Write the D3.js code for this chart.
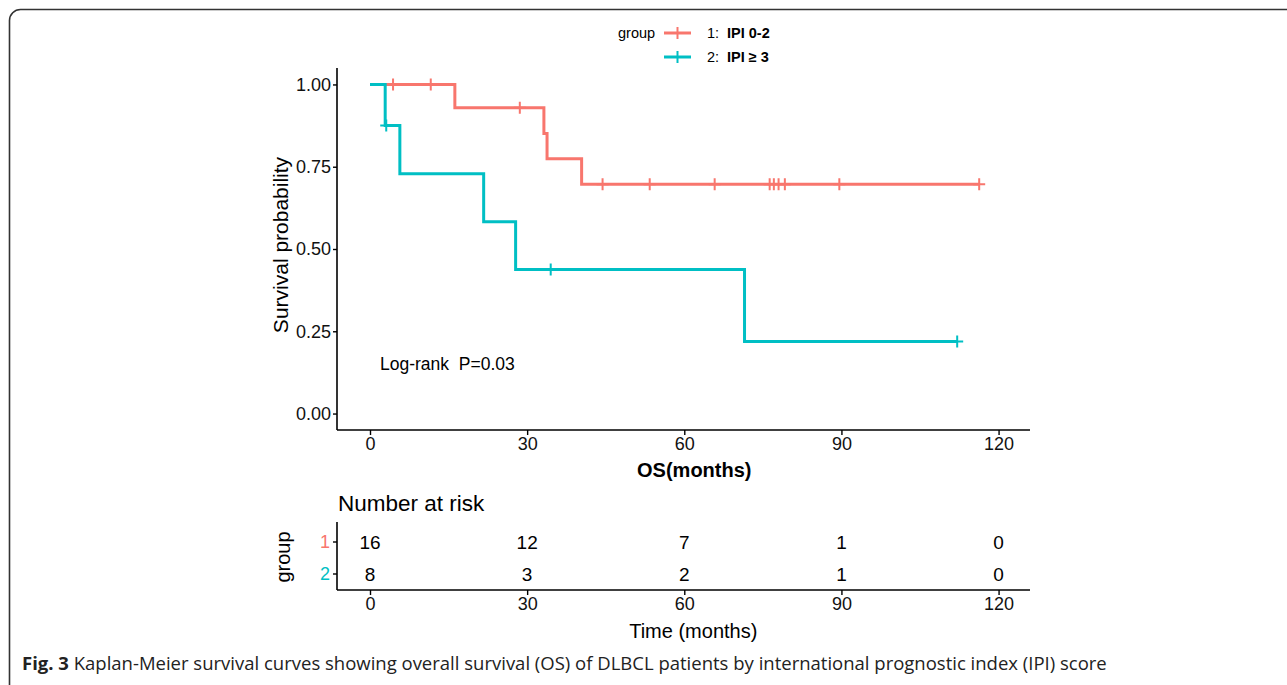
<!DOCTYPE html>
<html>
<head>
<meta charset="utf-8">
<script src="https://cdn.jsdelivr.net/npm/d3@7"></script>
<style>
  body { margin: 0; background: #fff; }
  svg text { font-family: "Liberation Sans", Arial, sans-serif; }
</style>
</head>
<body>
<div id="chart"></div>
<script>
// Kaplan-Meier steps
var groupNames = ["1", "2"];
var groupLabels = ["IPI 0-2", "IPI \u2265 3"];
var groupColors = ["#F8766D", "#00BFC4"];

var g1Time = [0, 16.2, 33.2, 33.8, 40.4, 116.3];
var g1Surv = [1, 0.929, 0.851, 0.774, 0.697, 0.697];
var g1Censor = [4.4, 11.6, 28.6, 44.4, 53.4, 65.8, 76.3, 77.1, 78.0, 79.2, 89.6, 116.3];

var g2Time = [0, 2.9, 5.7, 21.7, 27.8, 71.5, 112.1];
var g2Surv = [1, 0.875, 0.729, 0.583, 0.4375, 0.219, 0.219];
var g2Censor = [3.1, 34.5, 112.1];

// Number at risk table
var riskTimes = [0, 30, 60, 90, 120];
var risk1 = [16, 12, 7, 1, 0];
var risk2 = [8, 3, 2, 1, 0];

var xTicks = [0, 30, 60, 90, 120];
var yTicks = [0, 0.25, 0.5, 0.75, 1];

var W = 1287, H = 685;
var svg = d3.select("#chart").append("svg")
    .attr("width", W)
    .attr("height", H);

// figure frame
svg.append("rect")
    .attr("x", 9.5).attr("y", 9.5)
    .attr("width", W + 20).attr("height", H + 20)
    .attr("rx", 11).attr("ry", 11)
    .attr("fill", "none")
    .attr("stroke", "#333")
    .attr("stroke-width", 1.6);

// scales
var x = d3.scaleLinear().domain([-6.3, 126]).range([337, 1030]);
var y = d3.scaleLinear().domain([-0.05, 1.05]).range([430, 68]);

var survGroups = [
    {time: g1Time, surv: g1Surv, censor: g1Censor, color: groupColors[0]},
    {time: g2Time, surv: g2Surv, censor: g2Censor, color: groupColors[1]}
];

function survAt(g, t) {
    var s = g.surv[0];
    for (var i = 0; i < g.time.length; i++) {
        if (g.time[i] <= t) s = g.surv[i];
    }
    return s;
}

function styleAxis(a, d) {
    a.select(".domain").attr("stroke", "#000").attr("stroke-width", 1.6).attr("d", d);
    a.selectAll(".tick line").attr("stroke", "#000").attr("stroke-width", 1.4);
    a.selectAll(".tick text").attr("fill", "#111").style("font-size", "18px");
}

// axes of the main plot
var plot = svg.append("g");

var yAxis = plot.append("g")
    .attr("transform", "translate(" + x.range()[0] + ",0)")
    .call(d3.axisLeft(y).tickValues(yTicks).tickFormat(d3.format(".2f")).tickSize(4).tickPadding(2));
styleAxis(yAxis, "M0," + y.range()[0] + "V" + y.range()[1]);

var xAxis = plot.append("g")
    .attr("transform", "translate(0," + y.range()[0] + ")")
    .call(d3.axisBottom(x).tickValues(xTicks).tickSize(5).tickPadding(2));
styleAxis(xAxis, "M" + x.range()[0] + ",0H" + x.range()[1]);

// curves
var line = d3.line()
    .x(function(d) { return x(d[0]); })
    .y(function(d) { return y(d[1]); })
    .curve(d3.curveStepAfter);

survGroups.forEach(function(g) {
    var pts = g.time.map(function(t, i) { return [t, g.surv[i]]; });
    plot.append("path")
        .attr("d", line(pts))
        .attr("fill", "none")
        .attr("stroke", g.color)
        .attr("stroke-width", 3);

    plot.selectAll(null).data(g.censor).enter().append("path")
        .attr("d", function(t) {
            var cx = x(t), cy = y(survAt(g, t));
            return "M" + (cx - 6) + "," + cy + "H" + (cx + 6) + "M" + cx + "," + (cy - 6) + "V" + (cy + 6);
        })
        .attr("stroke", g.color)
        .attr("stroke-width", 2);
});

// labels
plot.append("text")
    .attr("transform", "translate(288," + (y(0.5) - 4) + ") rotate(-90)")
    .attr("text-anchor", "middle")
    .style("font-size", "21px")
    .text("Survival probability");

plot.append("text")
    .attr("x", x(60) + 10).attr("y", 477)
    .attr("text-anchor", "middle")
    .style("font-size", "20px")
    .style("font-weight", "bold")
    .text("OS(months)");

plot.append("text")
    .attr("x", 380).attr("y", 370)
    .style("font-size", "17.5px")
    .style("white-space", "pre")
    .text("Log-rank  P=0.03");

// legend
var legend = svg.append("g");
legend.append("text")
    .attr("x", 618).attr("y", 38)
    .style("font-size", "14.5px")
    .text("group");

groupLabels.forEach(function(lbl, i) {
    var ly = 33 + i * 24;
    legend.append("path")
        .attr("d", "M664," + ly + "H691")
        .attr("stroke", groupColors[i]).attr("stroke-width", 3);
    legend.append("path")
        .attr("d", "M677.5," + (ly - 6) + "V" + (ly + 6))
        .attr("stroke", groupColors[i]).attr("stroke-width", 2);
    legend.append("text")
        .attr("x", 707).attr("y", ly + 5)
        .style("font-size", "14.5px")
        .text(groupNames[i] + ":");
    legend.append("text")
        .attr("x", 727).attr("y", ly + 5)
        .style("font-size", "14.5px")
        .style("font-weight", "bold")
        .text(lbl);
});

// number at risk table
var risk = svg.append("g");
var yr = d3.scaleBand().domain(groupNames).range([526, 590]);

risk.append("text")
    .attr("x", 338).attr("y", 511)
    .style("font-size", "22.5px")
    .text("Number at risk");

var rxAxis = risk.append("g")
    .attr("transform", "translate(0,590)")
    .call(d3.axisBottom(x).tickValues(xTicks).tickSize(5).tickPadding(2));
styleAxis(rxAxis, "M" + x.range()[0] + ",0H" + x.range()[1]);

var ryAxis = risk.append("g")
    .attr("transform", "translate(" + x.range()[0] + ",0)")
    .call(d3.axisLeft(yr).tickSize(4).tickPadding(3));
styleAxis(ryAxis, "M0,522V590");
ryAxis.selectAll(".tick text")
    .attr("fill", function(d, i) { return groupColors[i]; });

[risk1, risk2].forEach(function(vals, gi) {
    risk.selectAll(null).data(vals).enter().append("text")
        .attr("x", function(d, i) { return x(riskTimes[i]); })
        .attr("y", yr(groupNames[gi]) + yr.bandwidth() / 2)
        .attr("dy", "0.36em")
        .attr("text-anchor", "middle")
        .style("font-size", "19px")
        .text(function(d) { return d; });
});

risk.append("text")
    .attr("transform", "translate(290,557) rotate(-90)")
    .attr("text-anchor", "middle")
    .style("font-size", "20px")
    .text("group");

risk.append("text")
    .attr("x", x(60) + 9).attr("y", 638)
    .attr("text-anchor", "middle")
    .style("font-size", "20px")
    .text("Time (months)");

// caption
var cap = svg.append("text")
    .attr("x", 22).attr("y", 670)
    .style("font-family", "'Open Sans', sans-serif")
    .style("font-size", "18.5px")
    .attr("fill", "#222");
cap.append("tspan").style("font-weight", "bold").text("Fig. 3");
cap.append("tspan").text(" Kaplan-Meier survival curves showing overall survival (OS) of DLBCL patients by international prognostic index (IPI) score");
</script>
</body>
</html>
